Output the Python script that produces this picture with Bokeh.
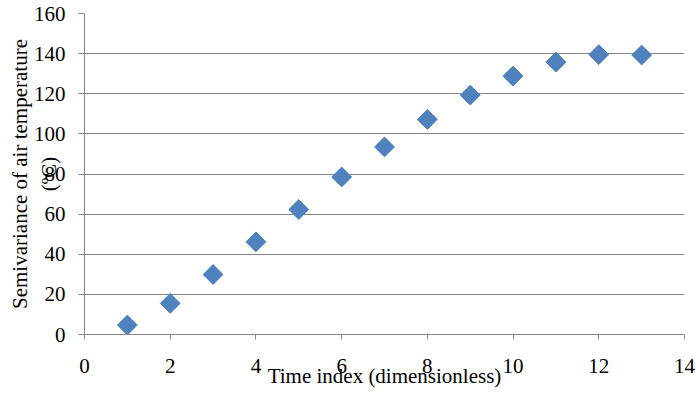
from bokeh.plotting import figure
from bokeh.models import Range1d, FixedTicker
from bokeh.embed import file_html
from bokeh.resources import INLINE
import math

time_index = [1, 2, 3, 4, 5, 6, 7, 8, 9, 10, 11, 12, 13]
semivariance = [4.7, 15.5, 29.9, 46.2, 62.3, 78.5, 93.5, 107.2, 119.3, 128.8, 135.8, 139.5, 139.3]
x_ticks = [0, 2, 4, 6, 8, 10, 12, 14]
y_ticks = [0, 20, 40, 60, 80, 100, 120, 140, 160]
x_title = "Time index (dimensionless)"
y_title = "Semivariance of air temperature\n(ºC)"

FONT = "Liberation Serif"
GREY = "#868686"

p = figure(width=696, height=396, output_backend="svg", toolbar_location=None,
           x_range=Range1d(0, 14), y_range=Range1d(0, 160),
           min_border_left=84, min_border_right=12, min_border_top=13, min_border_bottom=62)
p.outline_line_color = None
p.background_fill_color = "white"
p.border_fill_color = "white"

p.xgrid.grid_line_color = None
p.ygrid.grid_line_color = GREY
p.ygrid.grid_line_width = 1
p.ygrid.ticker = FixedTicker(ticks=y_ticks)

p.xaxis.ticker = FixedTicker(ticks=x_ticks)
p.yaxis.ticker = FixedTicker(ticks=y_ticks)
for ax in (p.xaxis, p.yaxis):
    ax.axis_line_color = GREY
    ax.major_tick_line_color = GREY
    ax.minor_tick_line_color = None
    ax.major_tick_in = 0
    ax.major_label_text_font = FONT
    ax.major_label_text_font_size = "21px"
    ax.major_label_text_color = "black"
    ax.axis_label_text_font = FONT
    ax.axis_label_text_font_size = "21px"
    ax.axis_label_text_font_style = "normal"
    ax.axis_label_text_color = "black"
p.xaxis.major_tick_out = 5
p.yaxis.major_tick_out = 6
p.xaxis.major_label_standoff = 19
p.yaxis.major_label_standoff = 13

p.xaxis.axis_label = x_title
p.xaxis.axis_label_standoff = -12
p.yaxis.axis_label = y_title
p.yaxis.axis_label_standoff = -30

p.scatter(time_index, semivariance, marker="square", size=14, angle=math.pi / 4,
          fill_color="#4F81BD", line_color="#4A7EBB", line_width=1)

open("out.html", "w").write(file_html(p, INLINE))
